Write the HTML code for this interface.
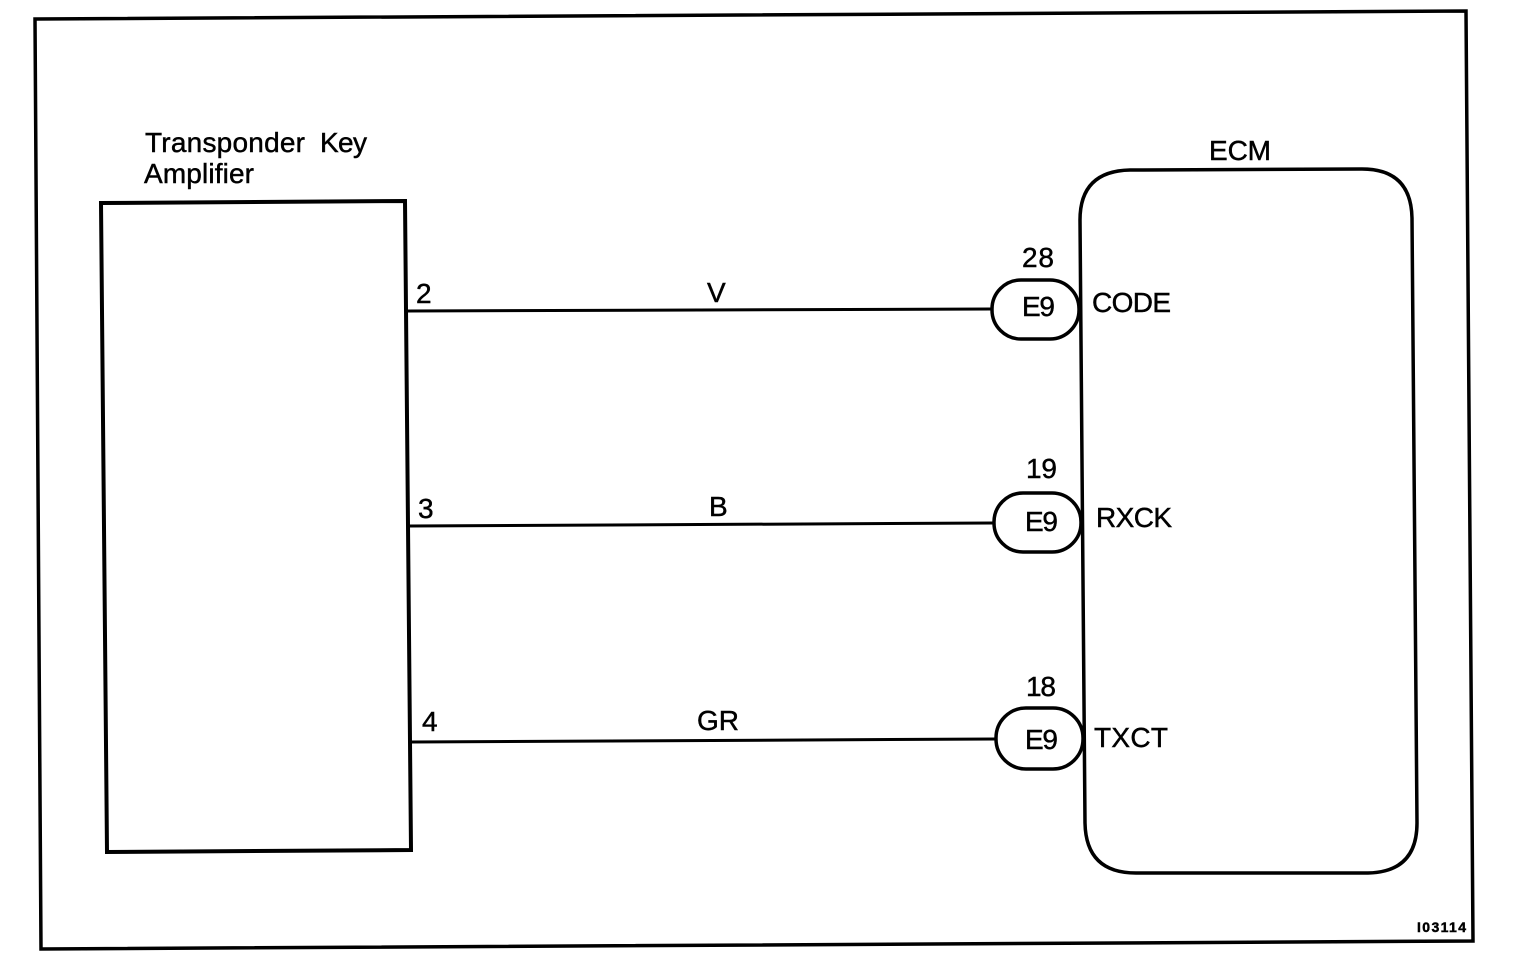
<!DOCTYPE html>
<html>
<head>
<meta charset="utf-8">
<style>
html,body{margin:0;padding:0;background:#fff;}
svg{display:block;}
text{font-family:"Liberation Sans",sans-serif;fill:#000;stroke:#000;stroke-width:.45;}
</style>
</head>
<body>
<svg width="1520" height="966" viewBox="0 0 1520 966" xmlns="http://www.w3.org/2000/svg">
<rect width="1520" height="966" fill="#fff"/>
<g fill="none" stroke="#000">
<path d="M35 19 L1466 11 L1473 941 L41 949 Z" stroke-width="3.5"/>
<path d="M101 203 L405 201 L411 850 L107 852 Z" stroke-width="4"/>
<path d="M1130 170 L1362 169 Q1411 169 1412 218 L1417 823 Q1417 872 1368 873 L1136 873 Q1086 873 1085 823 L1080 220 Q1080 171 1130 170 Z" stroke-width="3.5"/>
<path d="M407 311 L991 309" stroke-width="3"/>
<path d="M410 526 L993 523" stroke-width="3"/>
<path d="M412 742 L995 739" stroke-width="3"/>
<rect x="992" y="280" width="87" height="59" rx="29" ry="29" stroke-width="3.5"/>
<rect x="994" y="493" width="87" height="59" rx="29" ry="29" stroke-width="3.5"/>
<rect x="996" y="708" width="87" height="61" rx="30" ry="30" stroke-width="3.5"/>
</g>
<g font-size="28">
<text x="145" y="152" textLength="160" lengthAdjust="spacing">Transponder</text>
<text x="320" y="152" textLength="47" lengthAdjust="spacing">Key</text>
<text x="144" y="183" textLength="110" lengthAdjust="spacing">Amplifier</text>
<text x="1209" y="160" textLength="62" lengthAdjust="spacing">ECM</text>
<text x="416" y="303">2</text>
<text x="418" y="518">3</text>
<text x="422" y="731">4</text>
<text x="707" y="302">V</text>
<text x="709" y="516">B</text>
<text x="697" y="730" textLength="42" lengthAdjust="spacing">GR</text>
<text x="1022" y="267" textLength="32" lengthAdjust="spacing">28</text>
<text x="1026" y="478" textLength="31" lengthAdjust="spacing">19</text>
<text x="1026" y="696" textLength="30" lengthAdjust="spacing">18</text>
<text x="1022" y="316" textLength="33" lengthAdjust="spacing">E9</text>
<text x="1025" y="531" textLength="33" lengthAdjust="spacing">E9</text>
<text x="1025" y="749" textLength="33" lengthAdjust="spacing">E9</text>
<text x="1092" y="312" textLength="79" lengthAdjust="spacing">CODE</text>
<text x="1096" y="527" textLength="76" lengthAdjust="spacing">RXCK</text>
<text x="1094" y="747" textLength="74" lengthAdjust="spacing">TXCT</text>
</g>
<text x="1417" y="932" font-size="14" font-weight="bold" textLength="49" lengthAdjust="spacing">I03114</text>
</svg>
</body>
</html>
